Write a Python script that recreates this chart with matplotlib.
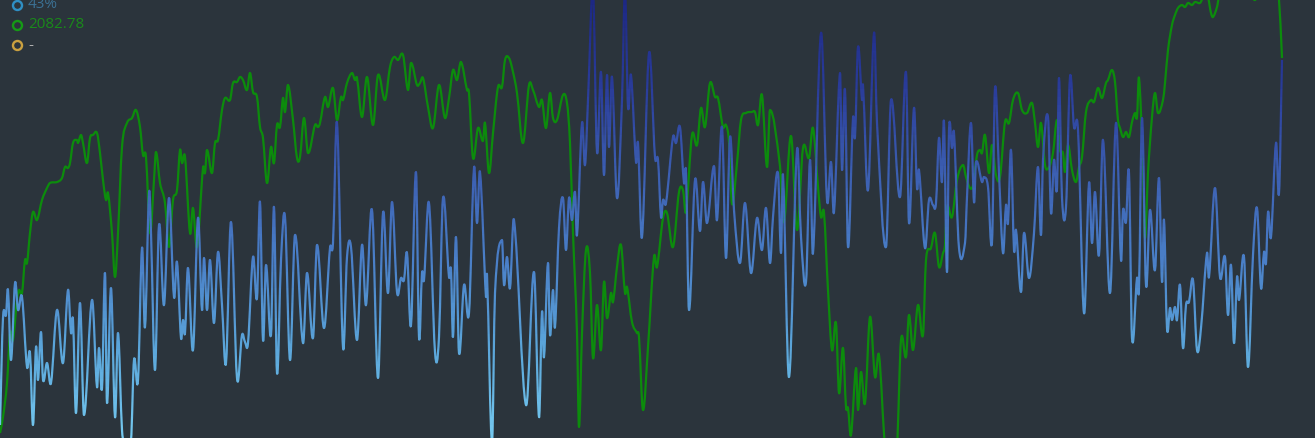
import numpy as np
import matplotlib
matplotlib.use("Agg")
import matplotlib.pyplot as plt
from matplotlib.colors import LinearSegmentedColormap
from matplotlib.patches import Rectangle, PathPatch
from matplotlib.path import Path

# sample times and values
blue_t = [0, 3, 6, 8, 11, 15, 18, 22, 27, 30, 33, 36, 38, 41, 43, 47, 51, 57, 63, 68,
          71, 73, 76, 80, 84, 92, 97, 99, 102, 105, 107, 111, 115, 118, 122, 125, 131, 134, 138, 142,
          145, 149, 151, 155, 159, 164, 169, 174, 177, 181, 183, 185, 188, 193, 198, 202, 204, 207, 210, 214,
          218, 222, 226, 231, 237, 242, 245, 248, 253, 257, 260, 263, 266, 271, 274, 277, 281, 285, 290, 295,
          303, 307, 313, 317, 324, 330, 333, 337, 343, 347, 351, 357, 362, 366, 372, 378, 383, 388, 392, 397,
          401, 404, 407, 411, 416, 419, 422, 424, 429, 435, 439, 443, 449, 451, 453, 456, 459, 464, 469, 474,
          477, 480, 486, 487, 492, 495, 502, 504, 507, 510, 514, 526, 534, 539, 542, 544, 548, 550, 553, 555,
          559, 563, 566, 569, 572, 575, 577, 582, 585, 588, 593, 597, 601, 604, 607, 609, 612, 617, 622, 625,
          628, 631, 636, 638, 642, 649, 655, 658, 661, 663, 666, 673, 676, 680, 684, 686, 689, 695, 700, 703,
          707, 714, 717, 722, 726, 730, 734, 740, 745, 751, 757, 762, 766, 770, 773, 778, 781, 783, 789, 797,
          801, 806, 810, 813, 821, 827, 831, 834, 840, 842, 845, 848, 853, 855, 858, 862, 863, 868, 874, 877,
          886, 891, 900, 906, 909, 914, 917, 919, 925, 929, 933, 936, 939, 942, 944, 947, 949, 952, 954, 959,
          965, 967, 971, 974, 976, 982, 984, 988, 992, 995, 999, 1003, 1006, 1008, 1011, 1014, 1016, 1021, 1024, 1029,
          1034, 1038, 1041, 1043, 1048, 1051, 1054, 1057, 1059, 1062, 1066, 1070, 1074, 1078, 1084, 1089, 1092, 1095, 1099, 1103,
          1110, 1116, 1121, 1123, 1126, 1129, 1132, 1137, 1139, 1142, 1146, 1150, 1155, 1159, 1162, 1164, 1167, 1170, 1172, 1175,
          1177, 1180, 1183, 1186, 1189, 1193, 1197, 1201, 1207, 1209, 1215, 1220, 1225, 1228, 1231, 1234, 1237, 1239, 1244, 1248,
          1253, 1257, 1261, 1264, 1266, 1268, 1271, 1276, 1279, 1282]
blue_v = [13, 120, 123, 148, 78, 155, 128, 141, 71, 85, 13, 91, 58, 106, 58, 75, 55, 128, 75, 148,
          105, 118, 25, 135, 23, 138, 51, 90, 50, 165, 35, 150, 21, 105, 8, -2, -2, 78, 58, 190,
          111, 245, 205, 68, 213, 133, 240, 141, 176, 100, 118, 105, 170, 88, 220, 128, 180, 128, 178, 115,
          186, 133, 75, 216, 60, 103, 96, 95, 181, 140, 236, 98, 173, 103, 231, 65, 178, 221, 78, 203,
          95, 165, 100, 193, 110, 190, 195, 315, 91, 181, 191, 98, 193, 133, 228, 60, 225, 145, 236, 146,
          160, 158, 185, 113, 266, 101, 165, 158, 235, 86, 101, 240, 161, 168, 101, 201, 85, 153, 125, 270,
          215, 266, 141, 163, -4, 145, 198, 153, 181, 150, 218, 33, 166, 21, 126, 81, 175, 103, 148, 111,
          210, 240, 188, 240, 218, 246, 203, 315, 273, 338, 448, 286, 366, 263, 363, 291, 361, 240, 338, 448,
          331, 363, 276, 295, 201, 385, 281, 278, 221, 238, 235, 301, 295, 311, 255, 265, 128, 258, 207, 256,
          215, 272, 218, 311, 180, 301, 228, 175, 235, 165, 220, 188, 230, 175, 221, 265, 185, 263, 61, 288,
          201, 156, 278, 185, 405, 238, 276, 226, 365, 268, 348, 191, 320, 301, 391, 338, 353, 248, 405, 315,
          191, 338, 241, 366, 215, 330, 250, 268, 190, 238, 233, 235, 300, 256, 316, 166, 308, 290, 305, 190,
          195, 241, 315, 236, 276, 256, 261, 251, 196, 350, 265, 185, 233, 215, 288, 188, 208, 146, 205, 160,
          205, 271, 203, 278, 321, 225, 278, 250, 360, 240, 231, 361, 311, 308, 125, 255, 195, 246, 183, 298,
          145, 315, 178, 228, 216, 265, 100, 160, 150, 320, 153, 228, 168, 260, 156, 218, 110, 130, 118, 131,
          118, 153, 90, 133, 136, 158, 88, 110, 185, 161, 250, 161, 181, 123, 173, 95, 161, 138, 181, 71,
          183, 230, 150, 186, 175, 226, 201, 295, 245, 378]

green_t = [0, 3, 7, 10, 13, 17, 19, 22, 25, 27, 30, 33, 37, 42, 47, 50, 57, 62, 65, 68,
           70, 73, 77, 78, 81, 83, 87, 90, 93, 97, 100, 103, 106, 108, 112, 115, 118, 122, 127, 132,
           136, 140, 143, 146, 150, 154, 156, 160, 165, 169, 173, 177, 180, 182, 185, 190, 193, 197, 203, 205,
           207, 212, 215, 218, 222, 225, 230, 233, 237, 240, 243, 247, 250, 253, 257, 260, 263, 267, 271, 274,
           277, 280, 283, 285, 288, 293, 297, 300, 304, 308, 315, 318, 320, 325, 328, 333, 337, 341, 343, 347,
           352, 355, 357, 362, 367, 373, 378, 385, 390, 394, 398, 403, 408, 411, 417, 420, 423, 428, 433, 439,
           445, 449, 453, 457, 461, 467, 469, 473, 478, 483, 485, 489, 493, 498, 502, 505, 509, 513, 517, 523,
           529, 533, 539, 542, 546, 550, 553, 557, 563, 567, 570, 573, 577, 579, 582, 586, 590, 593, 597, 601,
           604, 607, 611, 613, 617, 621, 625, 627, 632, 637, 639, 643, 648, 654, 657, 663, 667, 673, 679, 683,
           686, 692, 697, 701, 705, 710, 715, 718, 723, 726, 729, 732, 737, 741, 746, 752, 755, 758, 762, 767,
           770, 780, 784, 791, 797, 803, 809, 813, 818, 821, 824, 828, 832, 836, 839, 843, 846, 848, 851, 856,
           858, 861, 865, 870, 875, 879, 885, 891, 897, 901, 906, 909, 913, 918, 923, 926, 931, 935, 939, 943,
           945, 947, 952, 957, 963, 966, 970, 973, 977, 980, 982, 985, 989, 992, 996, 1000, 1005, 1009, 1013, 1018,
           1022, 1027, 1032, 1035, 1038, 1041, 1045, 1049, 1053, 1057, 1060, 1063, 1065, 1068, 1072, 1076, 1079, 1082, 1086, 1091,
           1094, 1098, 1102, 1106, 1108, 1112, 1115, 1118, 1120, 1123, 1126, 1129, 1132, 1135, 1137, 1139, 1143, 1145, 1148, 1152,
           1155, 1158, 1163, 1165, 1168, 1172, 1175, 1178, 1182, 1185, 1188, 1192, 1195, 1200, 1203, 1208, 1211, 1213, 1217, 1219,
           1225, 1235, 1245, 1252, 1255, 1258, 1268, 1276, 1279, 1282]
green_v = [5, 21, 55, 105, 98, 138, 148, 145, 178, 175, 205, 226, 218, 238, 250, 255, 256, 260, 271, 270,
           275, 295, 298, 295, 303, 295, 275, 300, 303, 305, 285, 258, 238, 245, 205, 161, 205, 291, 315, 320,
           328, 311, 283, 281, 205, 258, 286, 255, 235, 191, 238, 248, 288, 275, 281, 205, 230, 191, 270, 265,
           288, 265, 295, 298, 328, 340, 338, 355, 356, 361, 358, 348, 365, 346, 341, 311, 300, 255, 291, 275,
           313, 311, 340, 326, 353, 318, 280, 281, 320, 285, 313, 311, 315, 341, 331, 350, 318, 341, 338, 355,
           365, 358, 360, 321, 361, 313, 363, 338, 371, 381, 378, 383, 348, 375, 353, 355, 360, 331, 310, 353,
           320, 340, 368, 358, 376, 348, 345, 280, 310, 297, 315, 265, 305, 351, 351, 378, 380, 366, 345, 295,
           353, 348, 331, 338, 310, 345, 320, 318, 343, 335, 295, 205, 105, 11, 105, 188, 165, 80, 133, 88,
           156, 120, 145, 136, 171, 193, 145, 151, 116, 105, 101, 28, 91, 181, 171, 220, 225, 191, 246, 248,
           226, 303, 293, 330, 311, 355, 341, 340, 311, 313, 296, 234, 275, 318, 325, 326, 326, 313, 343, 271,
           328, 272, 216, 302, 208, 290, 280, 310, 251, 221, 225, 148, 88, 115, 45, 90, 31, 30, 3, 70,
           28, 66, 35, 121, 61, 83, -7, -17, -7, 98, 81, 123, 88, 133, 103, 178, 190, 205, 171, 185,
           193, 231, 221, 258, 273, 261, 250, 253, 283, 288, 285, 303, 265, 293, 263, 261, 316, 315, 338, 345,
           328, 325, 335, 315, 291, 315, 273, 271, 285, 318, 288, 285, 266, 293, 268, 256, 271, 281, 326, 338,
           336, 350, 340, 355, 358, 368, 356, 318, 310, 301, 306, 301, 316, 325, 321, 360, 271, 200, 265, 321,
           345, 325, 338, 355, 388, 413, 423, 430, 433, 431, 435, 433, 436, 435, 440, 440, 425, 421, 431, 441,
           448, 453, 448, 441, 438, 443, 453, 443, 438, 380]

legend_labels = ["43%", "2082.78", "-"]
legend_marker_colors = ["#2f8fc4", "#169a16", "#c9a040"]
legend_text_colors = ["#3b7194", "#1a8a1a", "#b0b0b0"]

W, H = 1315, 438
bg = "#2b343c"


def smooth_path(xs, ys, s=0.35):
    # cubic bezier through the points (smooth line style), control points from neighbours
    p = np.column_stack([xs, ys]).astype(float)
    n = len(p)
    verts = [p[0]]
    codes = [Path.MOVETO]
    for i in range(n - 1):
        a = p[i - 1] if i > 0 else p[i]
        b = p[i]
        c = p[i + 1]
        d = p[i + 2] if i + 2 < n else p[i + 1]
        seg = c[0] - b[0]
        t1 = (c - a) * seg / max(c[0] - a[0], 1e-9)
        t2 = (d - b) * seg / max(d[0] - b[0], 1e-9)
        verts += [b + s * t1, c - s * t2, c]
        codes += [Path.CURVE4] * 3
    return Path(np.array(verts), codes)


fig = plt.figure(figsize=(W / 100, H / 100), dpi=100, facecolor=bg)
ax = fig.add_axes([0, 0, 1, 1])
ax.set_facecolor(bg)
ax.set_xlim(0, W)
ax.set_ylim(0, H)
ax.axis("off")

ax.add_patch(PathPatch(smooth_path(green_t, green_v), fill=False, edgecolor="#0c8c0c",
                       lw=1.6, joinstyle="round", zorder=2))

# blue line coloured by height: same curve drawn in thin clipped bands
cmap = LinearSegmentedColormap.from_list(
    "blues", ["#74c8ef", "#5ba6da", "#4a80c8", "#3c5fb2", "#2a3c9a", "#1d2884"])
blue_path = smooth_path(blue_t, blue_v)
nb = 60
step = (H + 20) / nb
for i in range(nb):
    y0 = -10 + i * step
    c = cmap(min(max((y0 + step / 2) / H, 0), 1))
    pp = PathPatch(blue_path, fill=False, edgecolor=c, lw=1.6, joinstyle="round", zorder=3)
    ax.add_patch(pp)
    pp.set_clip_path(Rectangle((-10, y0), W + 20, step, transform=ax.transData))

for i, lab in enumerate(legend_labels):
    yy = 1 - (5 + 20 * i) / H
    ax.plot([17 / W], [yy], marker="o", ms=6.5, mfc="none", mec=legend_marker_colors[i],
            mew=1.7, transform=ax.transAxes, clip_on=False, zorder=5)
    ax.text(28 / W, yy, lab, color=legend_text_colors[i], fontsize=11, family="Open Sans",
            va="center", ha="left", transform=ax.transAxes, zorder=5)

fig.savefig("out.png", dpi=100, facecolor=bg)
